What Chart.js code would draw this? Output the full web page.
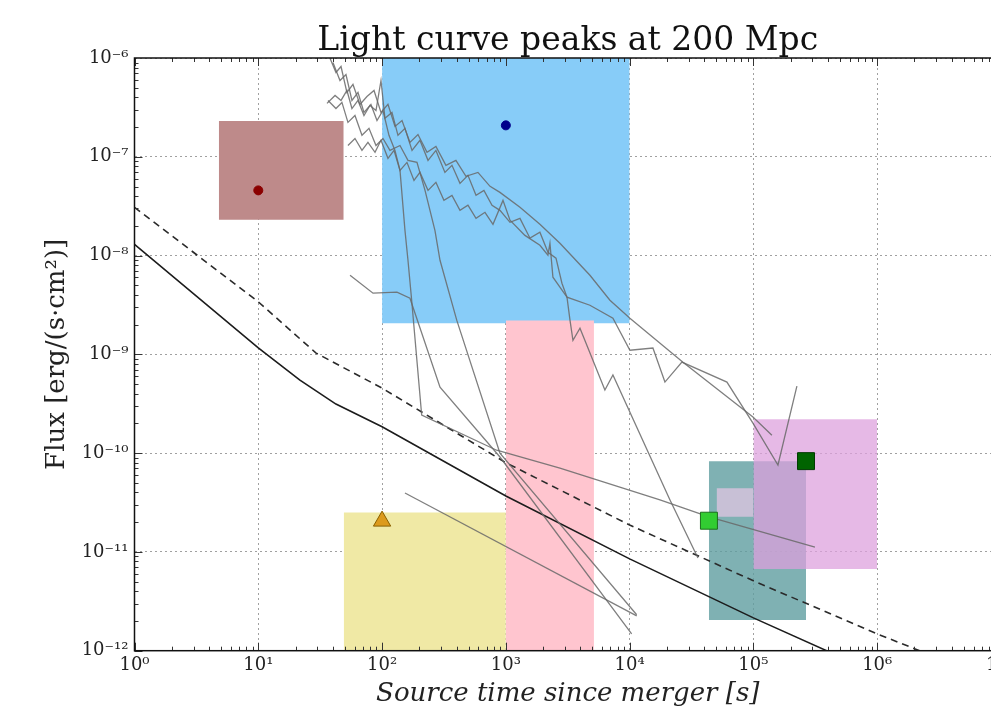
<!DOCTYPE html>
<html>
<head>
<meta charset="utf-8">
<script src="https://cdn.jsdelivr.net/npm/chart.js@4.4.0/dist/chart.umd.min.js"></script>
<style>
  html,body{margin:0;padding:0;background:#fff;overflow:hidden;width:991px;height:709px;}
  #wrap{width:1030px;height:709px;}
</style>
</head>
<body>
<div id="wrap"><canvas id="c" width="1030" height="709"></canvas></div>
<script>
// ---- axis ticks ----
const xTickValues = [1, 10, 100, 1e3, 1e4, 1e5, 1e6, 1e7];
const xTickLabels = ['10⁰', '10¹', '10²', '10³', '10⁴', '10⁵', '10⁶', '10⁷'];
const yTickValues = [1e-12, 1e-11, 1e-10, 1e-9, 1e-8, 1e-7, 1e-6];
const yTickLabels = ['10⁻¹²', '10⁻¹¹', '10⁻¹⁰', '10⁻⁹', '10⁻⁸', '10⁻⁷', '10⁻⁶'];

// ---- sensitivity curves ----
const sensSolid = [[1,1.3e-8],[10,1.16e-9],[21.7,5.48e-10],[42.4,3.14e-10],[100,1.85e-10],[1000,3.68e-11],[1e4,8.5e-12],[1e5,2.15e-12],[3.9e5,1e-12]];
const sensDashed = [[1,3.08e-8],[10,3.4e-9],[29.3,1.03e-9],[100,4.55e-10],[1000,8.0e-11],[1e4,1.87e-11],[1e5,5.1e-12],[1e6,1.48e-12],[2.2e6,1e-12]];

// ---- light curves (grey) ----
const lcA = [[37.9,1.0e-6],[42.4,7.13e-7],[46.6,8.2e-7],[52.0,4.48e-7],[58.2,5.40e-7],[66.3,3.39e-7],[75.5,4.08e-7],[86.1,4.69e-7],[98.0,2.81e-7],[111.6,3.39e-7],[127.1,2.03e-7],[144.9,2.33e-7],[168,1.40e-7],[195,1.68e-7],[230.7,1.11e-7],[272.3,1.27e-7],[328,8.19e-8],[395,9.2e-8],[476,6.34e-8],[595,6.95e-8],[745,5.02e-8],[896,4.36e-8],[1300,3.08e-8],[1884,2.07e-8],[2735,1.33e-8],[4777,6.32e-9],[6930,3.53e-9],[10050,2.32e-9],[26970,8.34e-10],[99080,2.32e-10],[141000,1.52e-10]];
const lcB = [[35.9,3.47e-7],[41.7,4.18e-7],[46.6,3.72e-7],[52.0,4.69e-7],[57.1,3.08e-7],[63.9,3.72e-7],[71.4,2.62e-7],[79.8,3.31e-7],[89.3,2.94e-7],[98.0,5.92e-7],[105.5,2.45e-7],[120.2,2.81e-7],[134.4,1.65e-7],[153.1,1.94e-7],[174.6,1.16e-7],[202.3,1.47e-7],[235,9.2e-8],[272.3,1.16e-7],[322,6.95e-8],[367,8.19e-8],[426,5.38e-8],[494,6.49e-8],[574,4.07e-8],[665,4.57e-8],[773,3.23e-8],[896,2.87e-8],[1080,2.17e-8],[1300,2.38e-8],[1566,1.50e-8],[1884,1.72e-8],[2188,1.08e-8],[2541,9.4e-9],[2838,5.25e-9],[3118,3.79e-9],[4777,3.14e-9],[7328,2.32e-9],[10050,1.10e-9],[15420,1.16e-9],[19280,5.24e-10],[26440,8.34e-10],[61090,5.24e-10],[99080,2.01e-10],[157800,7.59e-11],[224500,4.77e-10]];
const lcC = [[53.0,1.30e-7],[60.4,1.53e-7],[68.8,1.16e-7],[76.9,1.40e-7],[87.7,1.11e-7],[98.0,1.47e-7],[111.6,9.64e-8],[124.8,1.16e-7],[139.6,7.28e-8],[158.9,8.78e-8],[181.1,5.77e-8],[202.3,6.95e-8],[235,4.57e-8],[272.3,5.51e-8],[316,3.62e-8],[367,4.07e-8],[426,2.87e-8],[494,3.23e-8],[574,2.38e-8],[678,2.74e-8],[787,2.07e-8],[948,3.62e-8],[1080,2.28e-8],[1426,1.60e-8],[1884,1.27e-8],[2188,1.01e-8],[2271,1.33e-8],[2400,6.04e-9],[3118,3.79e-9],[3296,2.22e-9],[3484,1.39e-9],[3970,1.84e-9],[6312,4.35e-10],[7328,6.17e-10],[21180,3.36e-11],[35640,8.69e-12]];
const lcD = [[40.1,9.0e-7],[45.7,5.92e-7],[51.1,6.81e-7],[57.1,3.72e-7],[63.9,4.48e-7],[71.4,2.81e-7],[81.3,3.39e-7],[91.0,2.33e-7],[101.7,2.94e-7],[113.7,1.65e-7],[127.1,1.16e-7],[139.6,7.28e-8],[153.1,1.80e-8],[161.9,8.96e-9],[173.4,3.53e-9],[208.9,2.43e-10],[843,1.07e-10],[2735,7.07e-11],[17580,3.36e-11],[43740,2.26e-11],[314000,1.12e-11]];
const lcE = [[36.6,3.72e-7],[42.4,3.08e-7],[47.4,3.55e-7],[53.0,2.23e-7],[60.4,2.62e-7],[68.8,1.65e-7],[78.4,1.94e-7],[89.3,1.30e-7],[101.7,1.53e-7],[115.8,1.16e-7],[139.6,1.30e-7],[161.9,9.2e-8],[191.4,8.78e-8],[222.3,4.57e-8],[267.3,1.80e-8],[293.8,8.96e-9],[401,2.22e-9],[896,1.00e-10],[11400,2.31e-12]];
const lcF = [[55.1,6.32e-9],[84.5,4.16e-9],[131.9,4.26e-9],[168,3.70e-9],[293.8,4.66e-10],[896,9.14e-11],[10380,1.48e-12]];
const lcG = [[153.1,3.95e-11],[11400,2.25e-12]];

// ---- boxes: [xMin, xMax, yMin, yMax] ----
const boxBlue     = [100, 1e4, 2.07e-9, 1e-6];
const boxPink     = [1000, 5150, 1e-12, 2.2e-9];
const boxBrown    = [4.8, 49, 2.3e-8, 2.3e-7];
const boxYellow   = [49, 1000, 1e-12, 2.5e-11];
const boxTeal     = [43700, 266000, 2.05e-12, 8.3e-11];
const boxLavender = [50400, 1e5, 2.27e-11, 4.41e-11];
const boxPurple   = [1e5, 1e6, 6.7e-12, 2.2e-10];

// ---- peak markers ----
const ptRed      = [[10, 4.57e-8]];
const ptNavy     = [[1000, 2.08e-7]];
const ptTriangle = [[100, 2.05e-11]];
const ptLime     = [[43700, 2.07e-11]];
const ptDark     = [[266000, 8.3e-11]];

function boxDataset(b, color, order) {
  return {
    data: [[b[0], b[3]], [b[1], b[3]]],
    borderWidth: 0, pointRadius: 0, fill: {value: b[2]},
    backgroundColor: color, borderColor: 'rgba(0,0,0,0)', order: order
  };
}
function lineDataset(d, color, width, dash, order) {
  return {
    data: d, borderColor: color, borderWidth: width, borderDash: dash || [],
    pointRadius: 0, fill: false, tension: 0, order: order
  };
}
function markDataset(d, style, r, bg, bd, order) {
  return {
    data: d, showLine: false, pointStyle: style, pointRadius: r,
    pointBackgroundColor: bg, pointBorderColor: bd, pointBorderWidth: 1,
    borderColor: bd, backgroundColor: bg, order: order
  };
}

const grey = 'rgba(105,105,105,0.85)';
const datasets = [
  boxDataset(boxBlue, 'rgb(135,204,248)', 200),
  boxDataset(boxPink, 'rgb(255,197,207)', 199),
  boxDataset(boxBrown, 'rgb(190,138,138)', 198),
  boxDataset(boxYellow, 'rgb(240,233,165)', 197),
  boxDataset(boxTeal, 'rgba(95,158,160,0.8)', 196),
  boxDataset(boxLavender, 'rgb(200,192,214)', 195),
  boxDataset(boxPurple, 'rgba(221,160,221,0.74)', 194),
  lineDataset(sensSolid, '#1c1c1c', 1.6, [], 50),
  lineDataset(sensDashed, '#2a2a2a', 1.6, [7, 5], 50),
  lineDataset(lcA, grey, 1.3, [], 40),
  lineDataset(lcB, grey, 1.3, [], 40),
  lineDataset(lcC, grey, 1.3, [], 40),
  lineDataset(lcD, grey, 1.3, [], 40),
  lineDataset(lcE, grey, 1.3, [], 40),
  lineDataset(lcF, grey, 1.3, [], 40),
  lineDataset(lcG, grey, 1.3, [], 40),
  markDataset(ptRed, 'circle', 4.5, '#8b0000', '#8b0000', 1),
  markDataset(ptNavy, 'circle', 4.5, '#00008b', '#00008b', 1),
  markDataset(ptTriangle, 'triangle', 10, '#dc9a1c', '#8a6000', 1),
  markDataset(ptLime, 'rect', 12, '#32cd32', '#1d6e1d', 1),
  markDataset(ptDark, 'rect', 12, '#006400', '#003a00', 1)
];

const frameTicks = {
  id: 'frameTicks',
  afterDraw(chart) {
    const {ctx, chartArea: {left, right, top, bottom}, scales: {x, y}} = chart;
    ctx.save();
    ctx.strokeStyle = '#333';
    ctx.lineWidth = 1;
    ctx.beginPath();
    for (let e = 0; e < 7; e++) {
      for (let m = 1; m < 10; m++) {
        const px = Math.round(x.getPixelForValue(m * Math.pow(10, e))) + 0.5;
        const len = m === 1 ? 8 : 4;
        ctx.moveTo(px, bottom); ctx.lineTo(px, bottom - len);
        ctx.moveTo(px, top); ctx.lineTo(px, top + len);
      }
    }
    for (let e = -12; e < -6; e++) {
      for (let m = 1; m < 10; m++) {
        const py = Math.round(y.getPixelForValue(m * Math.pow(10, e))) + 0.5;
        const len = m === 1 ? 8 : 4;
        ctx.moveTo(left, py); ctx.lineTo(left + len, py);
        ctx.moveTo(right, py); ctx.lineTo(right - len, py);
      }
    }
    ctx.stroke();
    ctx.strokeStyle = '#111';
    ctx.lineWidth = 1.5;
    ctx.strokeRect(left, top, right - left, bottom - top);
    ctx.restore();
  }
};

new Chart(document.getElementById('c'), {
  type: 'line',
  data: { datasets: datasets },
  options: {
    responsive: false,
    devicePixelRatio: 1,
    animation: false,
    events: [],
    layout: { padding: { left: 0, right: 29, top: 0, bottom: 0 } },
    plugins: {
      legend: { display: false },
      tooltip: { enabled: false },
      title: {
        display: true,
        text: 'Light curve peaks at 200 Mpc',
        fullSize: false,
        color: '#111',
        font: { family: 'DejaVu Serif', size: 33, weight: 'normal', lineHeight: 1 },
        padding: { top: 25, bottom: 0 }
      }
    },
    scales: {
      x: {
        type: 'logarithmic',
        min: 1, max: 1e7,
        z: 1,
        afterBuildTicks(scale) { scale.ticks = xTickValues.map(v => ({ value: v })); },
        afterFit(scale) { scale.height = 58.3; },
        ticks: {
          autoSkip: false, maxRotation: 0, padding: 4, color: '#222',
          font: { family: 'DejaVu Serif', size: 18 },
          callback: (v, i) => xTickLabels[i]
        },
        grid: { color: 'rgba(150,150,150,0.9)', lineWidth: 1, drawTicks: false },
        border: { display: false, dash: [2, 3] },
        title: {
          display: true,
          text: 'Source time since merger [s]',
          color: '#222',
          font: { family: 'DejaVu Serif', size: 26, style: 'italic', lineHeight: 1 },
          padding: { top: 0, bottom: 2 }
        }
      },
      y: {
        type: 'logarithmic',
        min: 1e-12, max: 1e-6,
        z: 1,
        afterBuildTicks(scale) { scale.ticks = yTickValues.map(v => ({ value: v })); },
        afterFit(scale) { scale.width = 134.5; },
        ticks: {
          autoSkip: false, padding: 6, color: '#222',
          font: { family: 'DejaVu Serif', size: 18 },
          callback: (v, i) => yTickLabels[i]
        },
        grid: { color: 'rgba(150,150,150,0.9)', lineWidth: 1, drawTicks: false },
        border: { display: false, dash: [2, 3] },
        title: {
          display: true,
          text: 'Flux [erg/(s·cm²)]',
          color: '#222',
          font: { family: 'DejaVu Serif', size: 26, lineHeight: 1 },
          padding: { top: 44, bottom: 0 }
        }
      }
    }
  },
  plugins: [frameTicks]
});
</script>
</body>
</html>
